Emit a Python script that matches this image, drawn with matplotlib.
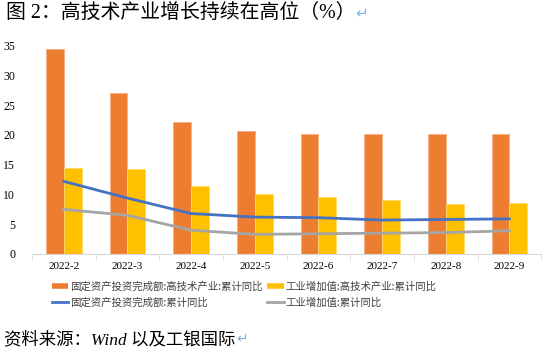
import numpy as np
import matplotlib.pyplot as plt
from matplotlib.lines import Line2D

plt.rcParams['font.family'] = ['Noto Sans CJK SC', 'DejaVu Sans']

months = ['2022-2', '2022-3', '2022-4', '2022-5', '2022-6', '2022-7', '2022-8', '2022-9']
fai_hightech = [34.5, 27.1, 22.1, 20.6, 20.2, 20.2, 20.2, 20.2]
va_hightech = [14.5, 14.3, 11.5, 10.0, 9.6, 9.0, 8.4, 8.5]
fai_total = [12.2, 9.4, 6.8, 6.2, 6.1, 5.7, 5.8, 5.9]
va_total = [7.5, 6.5, 4.0, 3.3, 3.4, 3.5, 3.6, 3.9]

labels = ['固定资产投资完成额:高技术产业:累计同比', '工业增加值:高技术产业:累计同比',
          '固定资产投资完成额:累计同比', '工业增加值:累计同比']

c_orange = '#ED7D31'
c_yellow = '#FFC000'
c_blue = '#4472C4'
c_gray = '#A5A5A5'

fig = plt.figure(figsize=(5.5, 3.54), dpi=100)
ax = fig.add_axes([0.058, 0.2825, 0.926, 0.5885])

x = np.arange(len(months))
w = 0.28
ax.bar(x - w / 2, fai_hightech, w, color=c_orange, edgecolor='#F4B183', linewidth=0.6, zorder=2)
ax.bar(x + w / 2, va_hightech, w, color=c_yellow, edgecolor='#FFD966', linewidth=0.6, zorder=2)
ax.plot(x, fai_total, color=c_blue, lw=2, zorder=3)
ax.plot(x, va_total, color=c_gray, lw=2, zorder=3)

ax.set_xlim(-0.5, len(months) - 0.5)
ax.set_ylim(0, 35)
ax.set_yticks(range(0, 36, 5))
ax.set_yticklabels([str(v) for v in range(0, 36, 5)], family='Liberation Serif', fontsize=8.5)
ax.set_xticks(x)
ax.set_xticklabels(months, family='Liberation Serif', fontsize=8)
ax.set_xticks(np.arange(-0.5, len(months), 1), minor=True)
ax.tick_params(axis='x', which='major', length=0, pad=6)
ax.tick_params(axis='x', which='minor', length=4, color='#D9D9D9', direction='out')
ax.tick_params(axis='y', length=0, pad=12)
for s in ['top', 'right', 'left']:
    ax.spines[s].set_visible(False)
ax.spines['bottom'].set_color('#D9D9D9')

handles = [Line2D([], [], color=c_orange, lw=4, solid_capstyle='butt'),
           Line2D([], [], color=c_blue, lw=2),
           Line2D([], [], color=c_yellow, lw=4, solid_capstyle='butt'),
           Line2D([], [], color=c_gray, lw=2)]
order_labels = [labels[0], labels[2], labels[1], labels[3]]
fig.legend(handles, order_labels, ncol=2, loc='center', bbox_to_anchor=(0.444, 0.168),
           frameon=False, fontsize=7.5, handlelength=1.6, handletextpad=0.2,
           columnspacing=0.4, labelspacing=0.5, labelcolor='#404040')

fig.text(0.01, 0.963, '图 2：高技术产业增长持续在高位（%）', fontsize=14.3,
         family=['Liberation Serif', 'Noto Sans CJK SC'], va='center', ha='left')
fig.text(0.645, 0.963, '↵', fontsize=11, color='#7FB2E5', va='center', ha='left')
fig.text(0.008, 0.04, '资料来源：Wind 以及工银国际', fontsize=12.5, style='italic',
         family=['Liberation Serif', 'Noto Sans CJK SC'], va='center', ha='left')
fig.text(0.43, 0.04, '↵', fontsize=10, color='#7FB2E5', va='center', ha='left')

fig.savefig('out.png', dpi=100)
